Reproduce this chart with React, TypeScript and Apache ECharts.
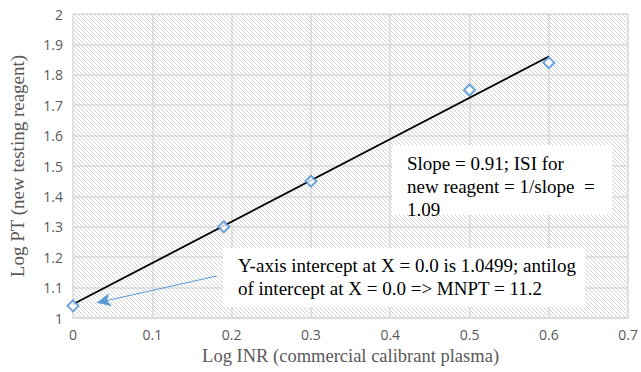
import React, { useEffect, useRef } from "react";
import * as echarts from "echarts";

const pointsX = [0, 0.19, 0.3, 0.5, 0.6];
const pointsY = [1.04, 1.3, 1.45, 1.75, 1.84];
const trendX = [0, 0.6];
const trendY = [1.045, 1.86];
const arrowFrom = [0.181, 1.138];
const arrowTo = [0.03, 1.05];
const xTitle = "Log INR (commercial calibrant plasma)";
const yTitle = "Log PT (new testing reagent)";
const note1 = "Slope = 0.91; ISI for\nnew reagent = 1/slope  =\n1.09";
const note2 = "Y-axis intercept at X = 0.0 is 1.0499; antilog\nof intercept at X = 0.0 => MNPT = 11.2";

function makeHatch() {
  const s = 4;
  const c = document.createElement("canvas");
  c.width = s;
  c.height = s;
  const ctx = c.getContext("2d")!;
  ctx.fillStyle = "#ffffff";
  ctx.fillRect(0, 0, s, s);
  ctx.fillStyle = "#d2d2d2";
  for (let y = 0; y < s; y++) {
    for (let x = 0; x < s; x++) {
      if (((x - y) % s + s) % s === 0) ctx.fillRect(x, y, 1, 1);
    }
  }
  return c;
}

export default function App() {
  const ref = useRef<HTMLDivElement>(null);
  useEffect(() => {
    document.body.style.margin = "0";
    const chart = echarts.init(ref.current!, null, { renderer: "svg" });
    const hatch = makeHatch();
    const serif = "Liberation Serif";
    const sans = "Open Sans";
    const noteStyle = {
      fontFamily: serif,
      fontSize: 19,
      fontWeight: "normal",
      color: "#000000",
      lineHeight: 23,
    };
    chart.setOption({
      animation: false,
      backgroundColor: "#ffffff",
      title: [
        { text: note1, left: 407, top: 152, padding: 0, textStyle: noteStyle, z: 11 },
        { text: note2, left: 238, top: 254, padding: 0, textStyle: noteStyle, z: 11 },
      ],
      grid: {
        left: 70,
        right: 12,
        top: 14,
        bottom: 54,
        show: true,
        borderWidth: 0,
        backgroundColor: { image: hatch, repeat: "repeat", imageWidth: 4, imageHeight: 4 },
      },
      xAxis: {
        type: "value",
        min: 0,
        max: 0.7,
        interval: 0.1,
        name: xTitle,
        nameLocation: "middle",
        nameGap: 28,
        nameTextStyle: { fontFamily: serif, fontSize: 18.5, color: "#595959" },
        axisLine: { show: true, lineStyle: { color: "#d9d9d9", width: 1.5 } },
        axisTick: { show: false },
        axisLabel: { fontFamily: sans, fontSize: 14, color: "#595959", margin: 9 },
        splitLine: { show: true, lineStyle: { color: "#d9d9d9", width: 1.5 } },
      },
      yAxis: {
        type: "value",
        min: 1,
        max: 2,
        interval: 0.1,
        name: yTitle,
        nameLocation: "middle",
        nameRotate: 90,
        nameGap: 46,
        nameTextStyle: { fontFamily: serif, fontSize: 19, color: "#595959" },
        axisLine: { show: false },
        axisTick: { show: false },
        axisLabel: {
          fontFamily: sans,
          fontSize: 14,
          color: "#595959",
          margin: 10,
          formatter: (v: number) => String(Math.round(v * 10) / 10),
        },
        splitLine: { show: true, lineStyle: { color: "#d9d9d9", width: 1.5 } },
      },
      series: [
        {
          type: "line",
          data: trendX.map((x, i) => [x, trendY[i]]),
          symbol: "none",
          lineStyle: { color: "#000000", width: 1.8 },
          z: 3,
          markLine: {
            silent: true,
            symbol: ["none", "arrow"],
            symbolSize: [10, 14],
            label: { show: false },
            lineStyle: { color: "#5b9bd5", width: 1, type: "solid" },
            data: [[{ coord: arrowFrom }, { coord: arrowTo }]],
          },
        },
        {
          type: "scatter",
          data: pointsX.map((x, i) => [x, pointsY[i]]),
          symbol: "diamond",
          symbolSize: [11, 11],
          itemStyle: { color: "#ffffff", borderColor: "#4a8fd4", borderWidth: 2 },
          z: 4,
        },
      ],
      graphic: [
        {
          type: "rect",
          shape: { x: 392, y: 145, width: 220, height: 70 },
          style: { fill: "#ffffff" },
          z: 10,
        },
        {
          type: "rect",
          shape: { x: 223, y: 248, width: 362, height: 59 },
          style: { fill: "#ffffff" },
          z: 10,
        },
      ],
    });
    return () => chart.dispose();
  }, []);
  return <div ref={ref} style={{ position: "fixed", left: 0, top: 0, width: 641, height: 372 }} />;
}
